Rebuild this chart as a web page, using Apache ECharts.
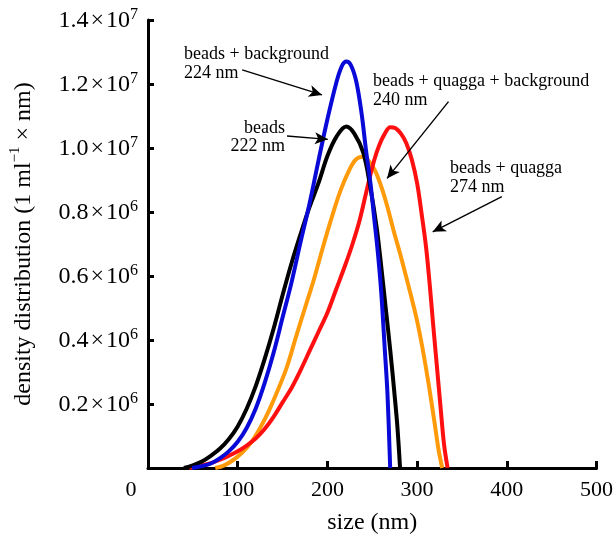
<!DOCTYPE html>
<html>
<head>
<meta charset="utf-8">
<script src="https://cdn.jsdelivr.net/npm/echarts@6/dist/echarts.min.js"></script>
<style>
html,body{margin:0;padding:0;background:#fff;}
#chart{width:616px;height:542px;}
</style>
</head>
<body>
<div id="chart"></div>
<script>
// ---- data (x: size in nm, y: density in units of 10^6) ----
const beadsX = [40, 50, 60, 70, 80, 90, 100, 110, 120, 130, 140, 150, 160, 170, 180, 190, 200, 210, 221, 230, 240, 248, 255, 260, 265, 270, 275, 278, 281];
const beadsY = [0, 0.08, 0.2, 0.38, 0.6, 0.9, 1.3, 1.85, 2.55, 3.4, 4.35, 5.4, 6.4, 7.3, 8.15, 8.9, 9.75, 10.35, 10.67, 10.45, 9.85, 8.75, 7.5, 6.3, 5.0, 3.7, 2.25, 1.3, 0];

const bgX = [49, 60, 70, 80, 90, 100, 110, 120, 130, 140, 150, 160, 170, 180, 190, 200, 210, 216, 221, 226, 232, 238, 243, 248, 252, 256, 260, 264, 267, 270];
const bgY = [0, 0.06, 0.14, 0.3, 0.52, 0.82, 1.25, 1.85, 2.65, 3.6, 4.7, 5.8, 7.05, 8.25, 9.6, 10.9, 12.05, 12.55, 12.7, 12.6, 12.1, 11.1, 9.94, 8.9, 7.85, 6.8, 5.5, 3.7, 2.3, 0];

const qbgX = [75, 85, 95, 105, 115, 125, 135, 145, 155, 165, 175, 185, 195, 205, 215, 225, 232, 239, 246, 253, 260, 267, 274, 281, 288, 294, 300, 306, 313, 319, 324, 328];
const qbgY = [0, 0.08, 0.25, 0.48, 0.8, 1.25, 1.8, 2.45, 3.17, 4.1, 5.0, 5.9, 6.9, 7.85, 8.7, 9.35, 9.65, 9.73, 9.6, 9.3, 8.8, 8.15, 7.4, 6.7, 5.95, 5.3, 4.6, 3.75, 2.6, 1.5, 0.56, 0];

const quaggaX = [46, 58, 70, 80, 90, 100, 110, 120, 130, 140, 150, 160, 170, 180, 190, 200, 210, 220, 228, 236, 244, 252, 258, 264, 270, 276, 282, 288, 294, 300, 305, 310, 314, 318, 322, 326, 330, 334];
const quaggaY = [0, 0.08, 0.15, 0.26, 0.38, 0.52, 0.7, 0.92, 1.22, 1.6, 2.05, 2.5, 3.05, 3.65, 4.25, 4.85, 5.6, 6.35, 7.0, 7.75, 8.7, 9.6, 10.1, 10.45, 10.65, 10.62, 10.45, 10.15, 9.65, 8.9, 7.95, 6.9, 5.75, 4.45, 3.2, 1.95, 0.75, 0];

const xTicks = [0, 100, 200, 300, 400, 500];
const yTickValues = [2, 4, 6, 8, 10, 12, 14];
const yTickMantissa = ['0.2', '0.4', '0.6', '0.8', '1.0', '1.2', '1.4'];
const yTickExponent = ['6', '6', '6', '6', '7', '7', '7'];

const annotationTexts = [
  'beads + background\n224 nm',
  'beads\n222 nm',
  'beads + quagga + background\n240 nm',
  'beads + quagga\n274 nm'
];
// arrows in data coordinates
const arrowFromX = [105, 155, 335, 394.5];
const arrowFromY = [12.44, 10.375, 11.45, 8.48];
const arrowToX = [194, 200.5, 266.5, 317.4];
const arrowToY = [11.66, 10.27, 9.05, 7.38];

function zip(xs, ys) { return xs.map((x, i) => [x, ys[i]]); }

const FONT = "'Liberation Serif', 'Times New Roman', serif";

const chart = echarts.init(document.getElementById('chart'), null, {renderer: 'canvas'});

const arrowData = arrowFromX.map((fx, i) => [
  {coord: [fx, arrowFromY[i]]},
  {coord: [arrowToX[i], arrowToY[i]]}
]);

function lineSeries(name, xs, ys, color, extra) {
  return Object.assign({
    name: name,
    type: 'line',
    data: zip(xs, ys),
    smooth: 0.35,
    showSymbol: false,
    symbol: 'none',
    lineStyle: {color: color, width: 4},
    itemStyle: {color: color},
    silent: true
  }, extra || {});
}

const option = {
  animation: false,
  backgroundColor: '#fff',
  grid: {left: 148, right: 18, top: 20, bottom: 74, containLabel: false},
  xAxis: {
    type: 'value',
    min: 0, max: 500, interval: 100,
    name: 'size (nm)',
    nameLocation: 'middle',
    nameGap: 43,
    nameTextStyle: {fontFamily: FONT, fontSize: 24, color: '#000'},
    axisLine: {show: true, lineStyle: {color: '#000', width: 3}},
    axisTick: {show: true, inside: true, length: 7, lineStyle: {color: '#000', width: 3}},
    splitLine: {show: false},
    axisLabel: {
      margin: 11,
      fontFamily: FONT, fontSize: 22, color: '#000',
      formatter: function (v) {
        if (v === xTicks[0]) return '{z|' + v + '}';
        return String(v);
      },
      rich: {z: {fontFamily: FONT, fontSize: 22, color: '#000', padding: [0, 34, 0, 0]}}
    }
  },
  yAxis: {
    type: 'value',
    min: 0, max: 14, interval: 2,
    name: '{n|density distribution (1 ml}{s|−1}{n| × nm)}',
    nameLocation: 'middle',
    nameRotate: 90,
    nameGap: 112,
    nameTextStyle: {
      fontFamily: FONT, fontSize: 24, color: '#000',
      rich: {
        n: {fontFamily: FONT, fontSize: 24, color: '#000', lineHeight: 28, verticalAlign: 'bottom'},
        s: {fontFamily: FONT, fontSize: 15, color: '#000', lineHeight: 28, verticalAlign: 'top'}
      }
    },
    axisLine: {show: true, lineStyle: {color: '#000', width: 3}},
    axisTick: {show: true, inside: true, length: 6, lineStyle: {color: '#000', width: 3}},
    splitLine: {show: false},
    axisLabel: {
      margin: 10,
      formatter: function (v) {
        const i = yTickValues.indexOf(v);
        if (i < 0) return '';
        return '{m|' + yTickMantissa[i] + '}{x|×}{m|10}{e|' + yTickExponent[i] + '}';
      },
      rich: {
        m: {fontFamily: FONT, fontSize: 24, color: '#000', lineHeight: 26, verticalAlign: 'bottom'},
        x: {fontFamily: FONT, fontSize: 24, color: '#000', lineHeight: 26, verticalAlign: 'bottom', padding: [0, 2, 0, 2]},
        e: {fontFamily: FONT, fontSize: 16, color: '#000', lineHeight: 26, verticalAlign: 'top'}
      }
    }
  },
  graphic: [
    {type: 'text', left: 184, top: 45, silent: true,
     style: {text: annotationTexts[0], font: '18px ' + FONT, fill: '#000', lineHeight: 19}},
    {type: 'text', right: 616 - 285, top: 119, silent: true,
     style: {text: annotationTexts[1], font: '18px ' + FONT, fill: '#000', lineHeight: 18, textAlign: 'right'}},
    {type: 'text', left: 373, top: 72, silent: true,
     style: {text: annotationTexts[2], font: '18px ' + FONT, fill: '#000', lineHeight: 19}},
    {type: 'text', left: 450, top: 159, silent: true,
     style: {text: annotationTexts[3], font: '18px ' + FONT, fill: '#000', lineHeight: 19}}
  ],
  series: [
    lineSeries('beads + quagga + background', qbgX, qbgY, '#ff9a0a'),
    lineSeries('beads + quagga', quaggaX, quaggaY, '#ff1010'),
    lineSeries('beads', beadsX, beadsY, '#000000'),
    lineSeries('beads + background', bgX, bgY, '#0a0ad8', {
      markLine: {
        silent: true,
        animation: false,
        symbol: ['none', 'arrow'],
        symbolSize: [9, 13],
        label: {show: false},
        lineStyle: {color: '#000', width: 1.4, type: 'solid'},
        emphasis: {disabled: true},
        data: arrowData
      }
    })
  ]
};

chart.setOption(option);
</script>
</body>
</html>
